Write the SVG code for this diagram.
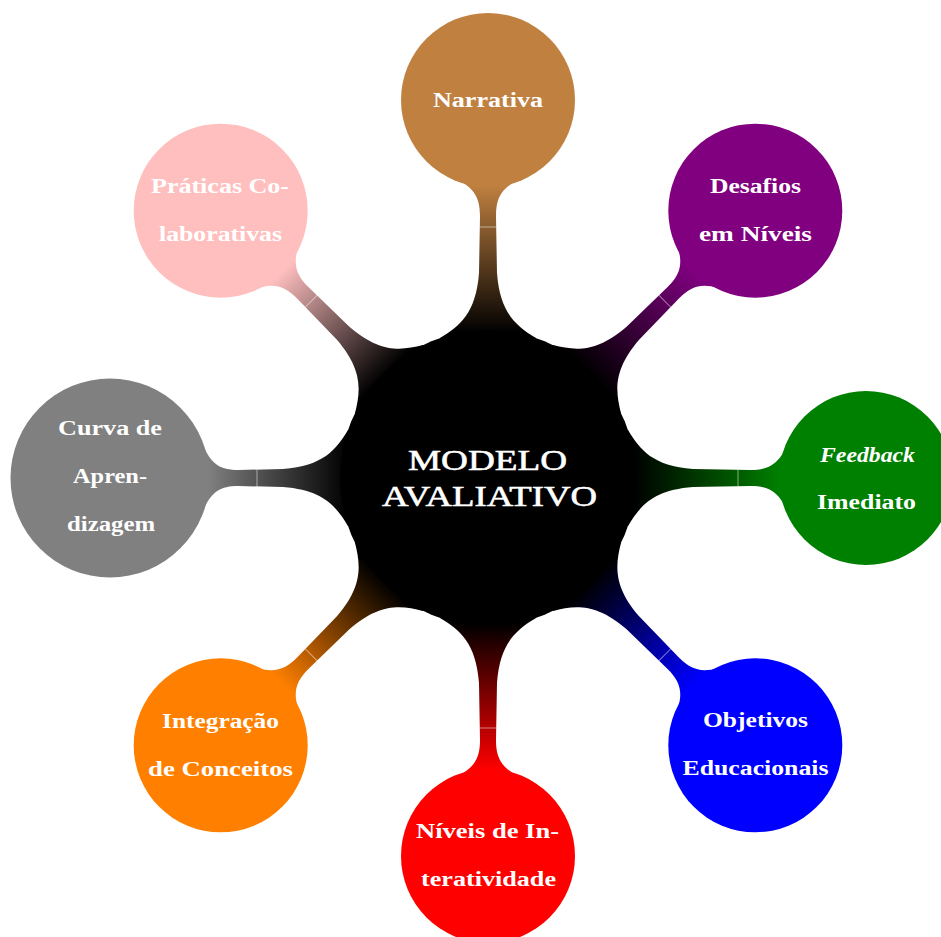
<svg xmlns="http://www.w3.org/2000/svg" width="941" height="937" viewBox="0 0 941 937">
<defs>
<style>
.lbl{font-family:"Liberation Serif","Times New Roman",serif;font-weight:bold;font-size:20px;fill:#ffffff;text-anchor:middle}
.root{font-family:"Liberation Serif","Times New Roman",serif;font-size:30px;fill:#ffffff;stroke:#ffffff;stroke-width:0.6;text-anchor:middle}
.seam{stroke:#ffffff;stroke-opacity:0.5;stroke-width:1}
</style>
<linearGradient id="gBrown" gradientUnits="userSpaceOnUse" x1="145" y1="0" x2="292" y2="0"><stop offset="0" stop-color="#000"/><stop offset="1" stop-color="#BF8040"/></linearGradient>
<linearGradient id="gViolet" gradientUnits="userSpaceOnUse" x1="145" y1="0" x2="292" y2="0"><stop offset="0" stop-color="#000"/><stop offset="1" stop-color="#800080"/></linearGradient>
<linearGradient id="gGreen" gradientUnits="userSpaceOnUse" x1="145" y1="0" x2="292" y2="0"><stop offset="0" stop-color="#000"/><stop offset="1" stop-color="#008000"/></linearGradient>
<linearGradient id="gBlue" gradientUnits="userSpaceOnUse" x1="145" y1="0" x2="292" y2="0"><stop offset="0" stop-color="#000"/><stop offset="1" stop-color="#0000FF"/></linearGradient>
<linearGradient id="gRed" gradientUnits="userSpaceOnUse" x1="145" y1="0" x2="292" y2="0"><stop offset="0" stop-color="#000"/><stop offset="1" stop-color="#FF0000"/></linearGradient>
<linearGradient id="gOrange" gradientUnits="userSpaceOnUse" x1="145" y1="0" x2="292" y2="0"><stop offset="0" stop-color="#000"/><stop offset="1" stop-color="#FF8000"/></linearGradient>
<linearGradient id="gGray" gradientUnits="userSpaceOnUse" x1="140" y1="0" x2="280" y2="0"><stop offset="0" stop-color="#000"/><stop offset="1" stop-color="#808080"/></linearGradient>
<linearGradient id="gPink" gradientUnits="userSpaceOnUse" x1="145" y1="0" x2="292" y2="0"><stop offset="0" stop-color="#000"/><stop offset="1" stop-color="#FFBFBF"/></linearGradient>
<path id="bar" d="M0,-48 L140,-48 C152,-28 165,-12 205,-9 L262,-8 C284,-8 294,-16 304.5,-46 L378,-46 L378,46 L304.5,46 C294,16 284,8 262,8 L205,9 C165,12 152,28 140,48 L0,48 Z"/>
<path id="barBig" d="M0,-48 L140,-48 C152,-28 165,-12 205,-9 L250,-8 C271,-8 280,-16 290,-46 L378,-46 L378,46 L290,46 C280,16 271,8 250,8 L205,9 C165,12 152,28 140,48 L0,48 Z"/>
</defs>
<rect width="941" height="937" fill="#ffffff"/>
<g id="connectors">
<g transform="translate(488,478) rotate(-90)"><use href="#bar" fill="url(#gBrown)"/><line class="seam" x1="251" y1="-8.5" x2="251" y2="8.5"/></g>
<g transform="translate(488,478) rotate(-45)"><use href="#bar" fill="url(#gViolet)"/><line class="seam" x1="250" y1="-8.5" x2="250" y2="8.5"/></g>
<g transform="translate(488,478) rotate(0)"><use href="#bar" fill="url(#gGreen)"/><line class="seam" x1="250" y1="-8.5" x2="250" y2="8.5"/></g>
<g transform="translate(488,478) rotate(45)"><use href="#bar" fill="url(#gBlue)"/><line class="seam" x1="250" y1="-8.5" x2="250" y2="8.5"/></g>
<g transform="translate(488,478) rotate(90)"><use href="#bar" fill="url(#gRed)"/><line class="seam" x1="250" y1="-8.5" x2="250" y2="8.5"/></g>
<g transform="translate(488,478) rotate(135)"><use href="#bar" fill="url(#gOrange)"/><line class="seam" x1="250" y1="-8.5" x2="250" y2="8.5"/></g>
<g transform="translate(488,478) rotate(180)"><use href="#barBig" fill="url(#gGray)"/><line class="seam" x1="231" y1="-8.5" x2="231" y2="8.5"/></g>
<g transform="translate(488,478) rotate(-135)"><use href="#bar" fill="url(#gPink)"/><line class="seam" x1="250" y1="-8.5" x2="250" y2="8.5"/></g>
</g>
<g id="root">
<circle cx="488" cy="478" r="148" fill="#000000"/>
<text class="root" x="487.5" y="470" textLength="159" lengthAdjust="spacingAndGlyphs">MODELO</text>
<text class="root" x="489.5" y="506" textLength="215" lengthAdjust="spacingAndGlyphs">AVALIATIVO</text>
</g>
<g id="narrativa">
<circle cx="488" cy="100" r="87" fill="#BF8040"/>
<text class="lbl" x="488" y="107" textLength="110" lengthAdjust="spacingAndGlyphs">Narrativa</text>
</g>
<g id="desafios">
<circle cx="755.3" cy="210.7" r="87" fill="#800080"/>
<text class="lbl" x="755.5" y="193" textLength="91" lengthAdjust="spacingAndGlyphs">Desafios</text>
<text class="lbl" x="755.5" y="241" textLength="113" lengthAdjust="spacingAndGlyphs">em Níveis</text>
</g>
<g id="feedback">
<circle cx="866" cy="478" r="87" fill="#008000"/>
<text class="lbl" x="867.5" y="462" font-style="italic" textLength="95" lengthAdjust="spacingAndGlyphs">Feedback</text>
<text class="lbl" x="866.5" y="509" textLength="99" lengthAdjust="spacingAndGlyphs">Imediato</text>
</g>
<g id="objetivos">
<circle cx="755.3" cy="745.3" r="87" fill="#0000FF"/>
<text class="lbl" x="755.5" y="727" textLength="105" lengthAdjust="spacingAndGlyphs">Objetivos</text>
<text class="lbl" x="755.5" y="775" textLength="146" lengthAdjust="spacingAndGlyphs">Educacionais</text>
</g>
<g id="niveis">
<circle cx="488" cy="856" r="87" fill="#FF0000"/>
<text class="lbl" x="487.5" y="838" textLength="143" lengthAdjust="spacingAndGlyphs">Níveis de In-</text>
<text class="lbl" x="488.5" y="886" textLength="135" lengthAdjust="spacingAndGlyphs">teratividade</text>
</g>
<g id="integracao">
<circle cx="220.7" cy="745.3" r="87" fill="#FF8000"/>
<text class="lbl" x="220.5" y="728" textLength="117" lengthAdjust="spacingAndGlyphs">Integração</text>
<text class="lbl" x="220.5" y="776" textLength="145" lengthAdjust="spacingAndGlyphs">de Conceitos</text>
</g>
<g id="curva">
<circle cx="110" cy="478" r="99.5" fill="#808080"/>
<text class="lbl" x="110" y="435" textLength="104" lengthAdjust="spacingAndGlyphs">Curva de</text>
<text class="lbl" x="110" y="483" textLength="74" lengthAdjust="spacingAndGlyphs">Apren-</text>
<text class="lbl" x="111" y="531" textLength="88" lengthAdjust="spacingAndGlyphs">dizagem</text>
</g>
<g id="praticas">
<circle cx="220.7" cy="210.7" r="87" fill="#FFBFBF"/>
<text class="lbl" x="220" y="193" textLength="138" lengthAdjust="spacingAndGlyphs">Práticas Co-</text>
<text class="lbl" x="220.5" y="241" textLength="123" lengthAdjust="spacingAndGlyphs">laborativas</text>
</g>
</svg>
